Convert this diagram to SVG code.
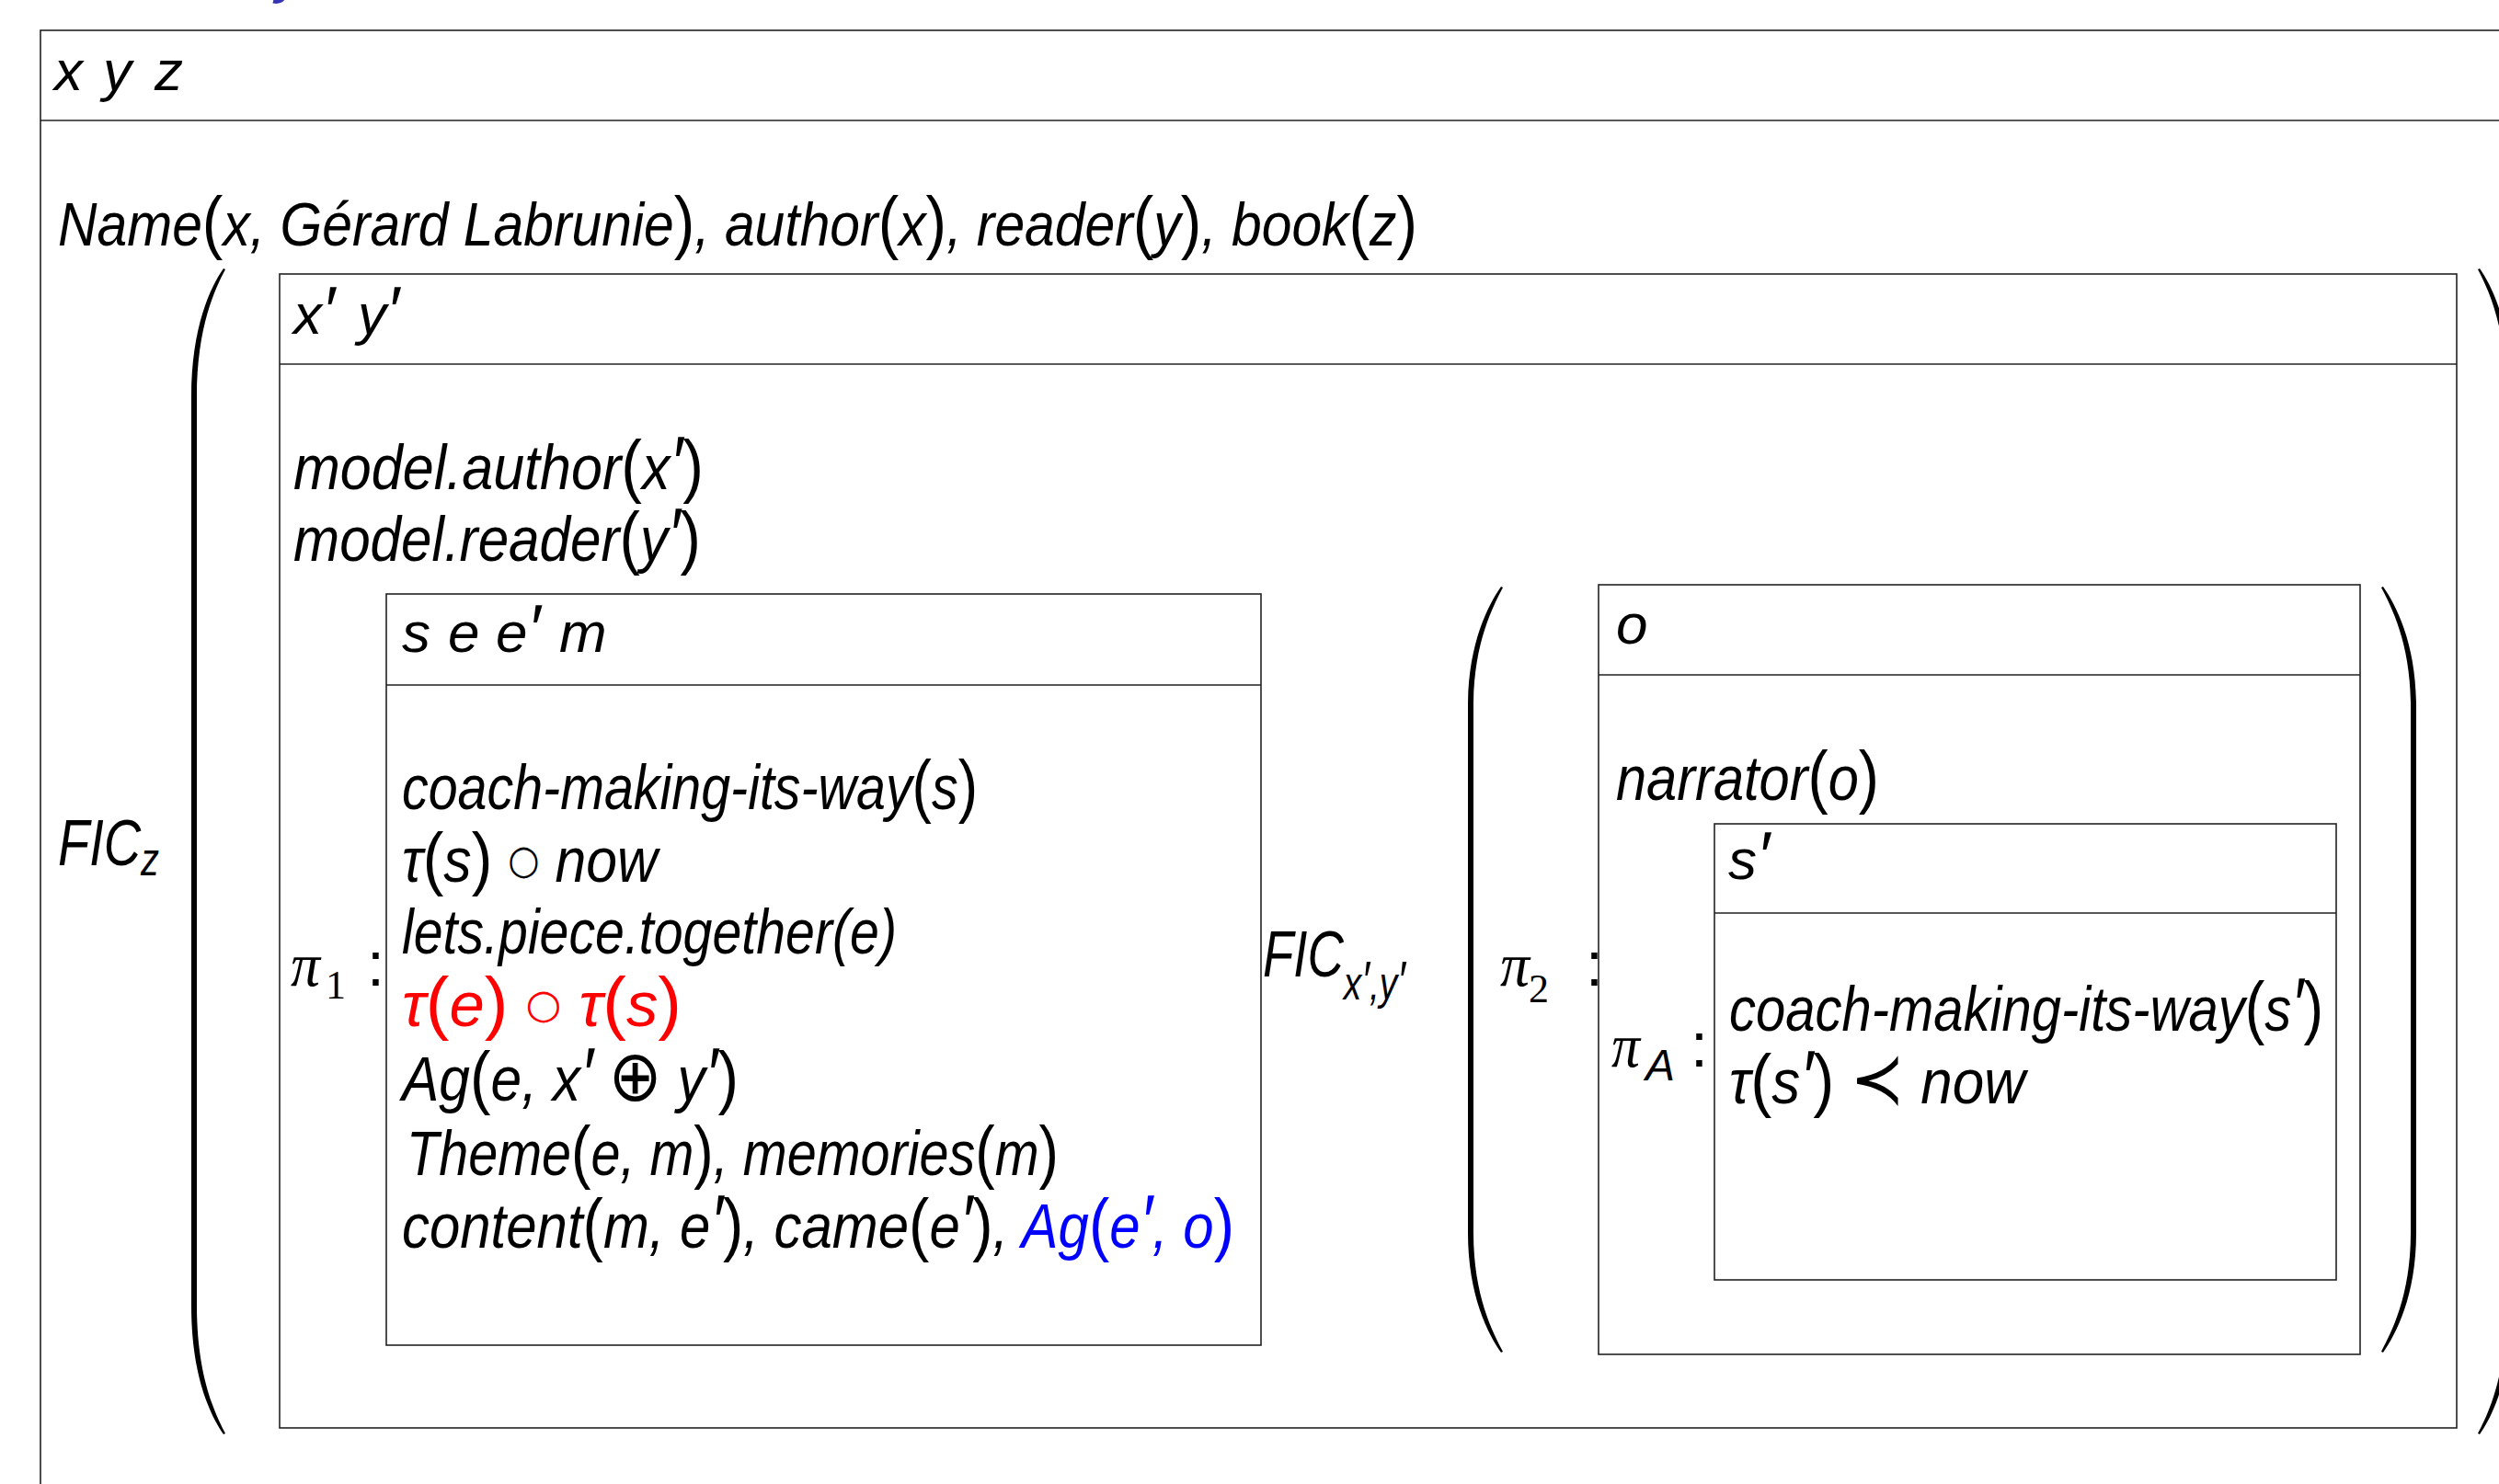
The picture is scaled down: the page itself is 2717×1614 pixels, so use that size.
<svg xmlns="http://www.w3.org/2000/svg" xmlns:xlink="http://www.w3.org/1999/xlink" width="2717" height="1614" viewBox="0 0 2717 1614">
<style>
.t{font-family:"Liberation Sans","DejaVu Sans",sans-serif;font-style:italic;font-size:68px;fill:#000}
.h{font-size:62px}
.p{font-style:normal;font-size:76px}
.u{font-style:normal}
.sr{font-family:"Liberation Serif","DejaVu Serif",serif;font-style:normal}
.pr{font-size:1.2em}
.m{font-family:"DejaVu Sans",sans-serif;font-style:normal;font-size:78px}
.c{font-family:"DejaVu Sans",sans-serif;font-style:normal;font-size:44px}
.g{font-family:"Liberation Serif","DejaVu Serif",serif;font-style:italic;font-size:68px}
.box{fill:none;stroke:#222;stroke-width:1.6}
.rule{stroke:#222;stroke-width:1.6;fill:none}
.red{fill:#f00}
.blue{fill:#00f}
.paren{fill:#000;stroke:none}
</style>
<defs>
<path id="bigParen" d="M243,292 C229,312 208,355 208,432 L208,1420 C208,1497 229,1540 243,1560 L245,1559 C234,1538 214,1497 214,1420 L214,432 C214,355 234,314 245,293 Z"/>
<path id="midParen" d="M1632,638 C1618,658 1596,700 1596,768 L1596,1341 C1596,1409 1618,1451 1632,1471 L1634,1470 C1623,1449 1602,1409 1602,1341 L1602,768 C1602,700 1623,660 1634,639 Z"/>
</defs>
<rect width="2717" height="1614" fill="#fff"/>

<text class="t" x="300" y="-9" style="fill:#3434b4;font-size:62px">y</text>

<g id="drs-outer">
<rect class="box" x="44" y="33" width="2760" height="1700"/>
<line class="rule" x1="44" y1="131" x2="2717" y2="131"/>
<text class="t h" x="59" y="98">x</text>
<text class="t h" x="112" y="98">y</text>
<text class="t h" x="168" y="98">z</text>
<text class="t" x="63" y="267" style="font-size:66px" textLength="1478" lengthAdjust="spacingAndGlyphs">Name<tspan class="p">(</tspan>x, Gérard Labrunie<tspan class="p">)</tspan>, author<tspan class="p">(</tspan>x<tspan class="p">)</tspan>, reader<tspan class="p">(</tspan>y<tspan class="p">)</tspan>, book<tspan class="p">(</tspan>z<tspan class="p">)</tspan></text>
<text class="t" x="63" y="941" style="font-size:70px" textLength="110" lengthAdjust="spacingAndGlyphs">FIC<tspan style="font-size:50px" dy="11">z</tspan></text>
</g>

<g id="drs-fic">
<rect class="box" x="304" y="298" width="2367" height="1255"/>
<line class="rule" x1="304" y1="396" x2="2671" y2="396"/>
<text class="t h" x="319" y="363">x<tspan class="pr">′</tspan></text>
<text class="t h" x="389" y="363">y<tspan class="pr">′</tspan></text>
<text class="t" x="319" y="532" textLength="446" lengthAdjust="spacingAndGlyphs">model.author<tspan class="p">(</tspan>x<tspan class="pr">′</tspan><tspan class="p">)</tspan></text>
<text class="t" x="319" y="610" textLength="443" lengthAdjust="spacingAndGlyphs">model.reader<tspan class="p">(</tspan>y<tspan class="pr">′</tspan><tspan class="p">)</tspan></text>
<text class="t g" x="316" y="1072" textLength="32" lengthAdjust="spacingAndGlyphs">π</text>
<text class="t sr" x="354" y="1086" style="font-size:44px">1</text>
<text class="t u" x="399" y="1072">:</text>
<text class="t" x="1373" y="1062" style="font-size:70px" textLength="155" lengthAdjust="spacingAndGlyphs">FIC<tspan style="font-size:50px" dy="25">x<tspan class="pr">′</tspan>,y<tspan class="pr">′</tspan></tspan></text>
<text class="t g" x="1631" y="1072" textLength="32" lengthAdjust="spacingAndGlyphs">π</text>
<text class="t sr" x="1662" y="1090" style="font-size:44px">2</text>
<text class="t u" x="1724" y="1072">:</text>
</g>

<g id="drs-pi1">
<rect class="box" x="420" y="646" width="951" height="817"/>
<line class="rule" x1="420" y1="745" x2="1371" y2="745"/>
<text class="t h" x="437" y="709">s</text>
<text class="t h" x="487" y="709">e</text>
<text class="t h" x="539" y="709">e<tspan class="pr">′</tspan></text>
<text class="t h" x="608" y="709">m</text>
<text class="t" x="437" y="880" textLength="626" lengthAdjust="spacingAndGlyphs">coach-making-its-way<tspan class="p">(</tspan>s<tspan class="p">)</tspan></text>
<text class="t" x="437" y="959" textLength="278" lengthAdjust="spacingAndGlyphs">τ<tspan class="p">(</tspan>s<tspan class="p">)</tspan> <tspan class="c" dy="-9">○</tspan><tspan dy="9"> now</tspan></text>
<text class="t" x="437" y="1037" textLength="538" lengthAdjust="spacingAndGlyphs">lets.piece.together(e)</text>
<text class="t red" x="437" y="1116" textLength="304" lengthAdjust="spacingAndGlyphs">τ<tspan class="p">(</tspan>e<tspan class="p">)</tspan>  <tspan class="c" dy="-9">○</tspan><tspan dy="9"> τ</tspan><tspan class="p">(</tspan>s<tspan class="p">)</tspan></text>
<text class="t" x="437" y="1197" textLength="366" lengthAdjust="spacingAndGlyphs">Ag<tspan class="p">(</tspan>e, x<tspan class="pr">′</tspan> <tspan class="m">⊕</tspan> y<tspan class="pr">′</tspan><tspan class="p">)</tspan></text>
<text class="t" x="442" y="1278" textLength="709" lengthAdjust="spacingAndGlyphs">Theme<tspan class="p">(</tspan>e, m<tspan class="p">)</tspan>, memories<tspan class="p">(</tspan>m<tspan class="p">)</tspan></text>
<text class="t" x="437" y="1357" textLength="905" lengthAdjust="spacingAndGlyphs">content<tspan class="p">(</tspan>m, e<tspan class="pr">′</tspan><tspan class="p">)</tspan>, came<tspan class="p">(</tspan>e<tspan class="pr">′</tspan><tspan class="p">)</tspan>, <tspan class="blue">Ag</tspan><tspan class="p blue">(</tspan><tspan class="blue">e<tspan class="pr">′</tspan>, o</tspan><tspan class="p blue">)</tspan></text>
</g>

<g id="drs-pi2">
<rect class="box" x="1738" y="636" width="828" height="837"/>
<line class="rule" x1="1738" y1="734" x2="2566" y2="734"/>
<text class="t h" x="1757" y="700">o</text>
<text class="t" x="1757" y="870" textLength="286" lengthAdjust="spacingAndGlyphs">narrator<tspan class="p">(</tspan>o<tspan class="p">)</tspan></text>
<text class="t g" x="1752" y="1160" textLength="31" lengthAdjust="spacingAndGlyphs">π</text>
<text class="t" x="1789" y="1175" style="font-size:48px">A</text>
<text class="t u" x="1838" y="1160">:</text>
</g>

<g id="drs-piA">
<rect class="box" x="1864" y="896" width="676" height="496"/>
<line class="rule" x1="1864" y1="993" x2="2540" y2="993"/>
<text class="t h" x="1879" y="956">s<tspan class="pr">′</tspan></text>
<text class="t" x="1880" y="1121" textLength="646" lengthAdjust="spacingAndGlyphs">coach-making-its-way<tspan class="p">(</tspan>s<tspan class="pr">′</tspan><tspan class="p">)</tspan></text>
<text class="t" x="1880" y="1200" textLength="322" lengthAdjust="spacingAndGlyphs">τ<tspan class="p">(</tspan>s<tspan class="pr">′</tspan><tspan class="p">)</tspan> <tspan class="m">≺</tspan> now</text>
</g>

<g id="connectors">
<use class="paren" xlink:href="#bigParen" href="#bigParen"/>
<use class="paren" xlink:href="#bigParen" href="#bigParen" transform="matrix(-1,0,0,1,2939,0)"/>
<use class="paren" xlink:href="#midParen" href="#midParen"/>
<use class="paren" xlink:href="#midParen" href="#midParen" transform="matrix(-1,0,0,1,4223,0)"/>
</g>
</svg>
